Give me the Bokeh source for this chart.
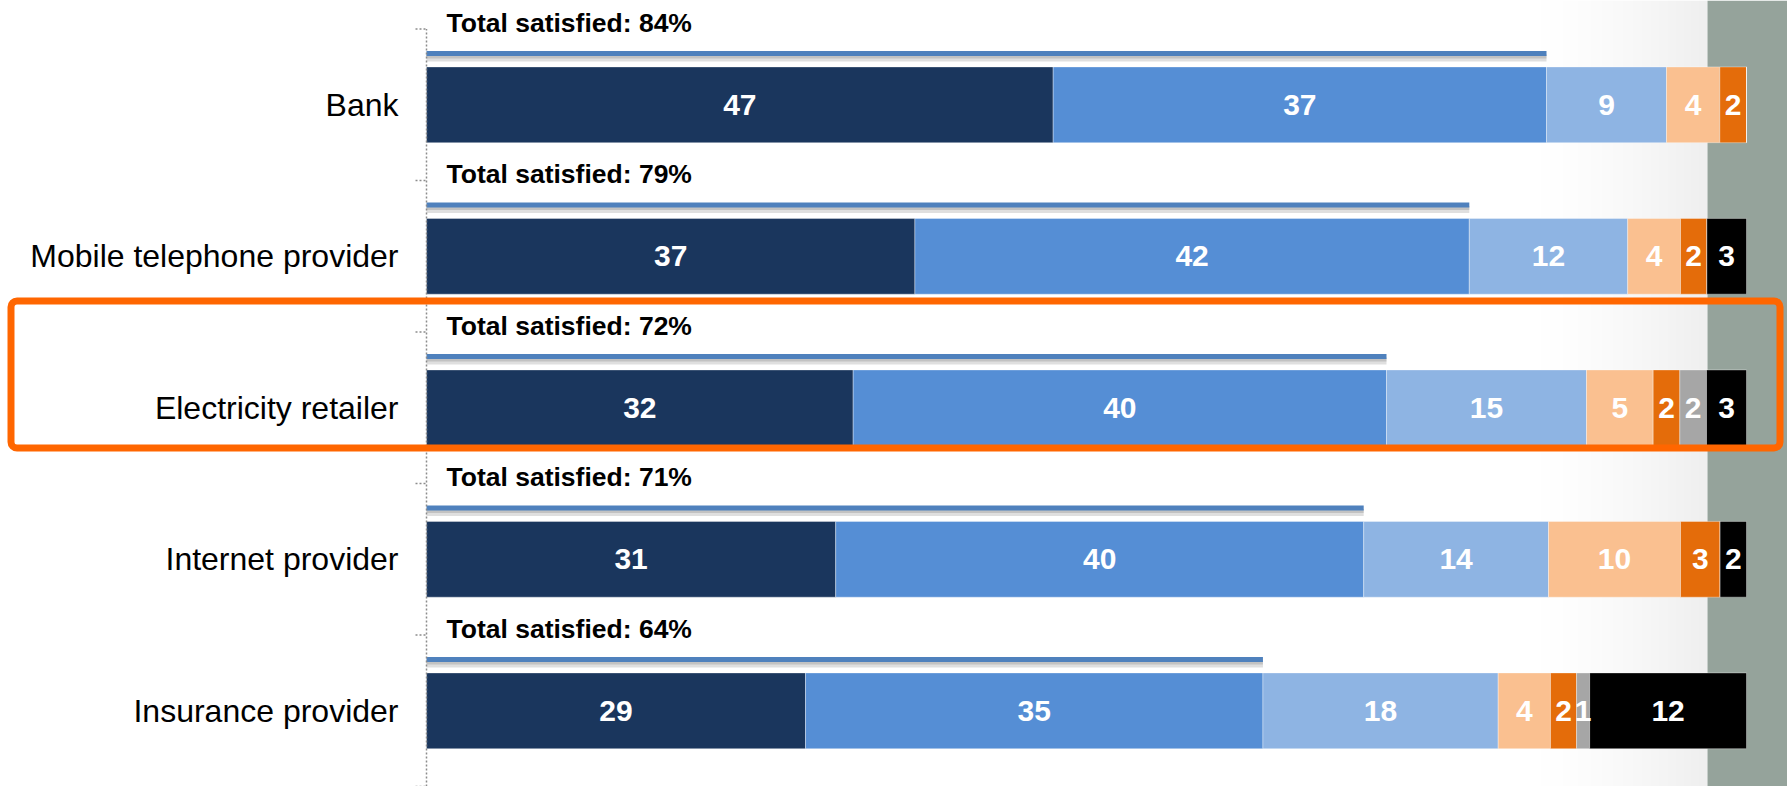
import numpy as np
from bokeh.plotting import figure
from bokeh.models import Range1d, BoxAnnotation, ColumnDataSource
from bokeh.core.properties import value
from bokeh.embed import file_html
from bokeh.resources import INLINE

# ---------------- data ----------------
categories = ["Bank", "Mobile telephone provider", "Electricity retailer",
              "Internet provider", "Insurance provider"]
series_names = ["Very satisfied", "Satisfied", "Neutral", "Dissatisfied",
                "Very dissatisfied", "Unsure", "Not applicable"]
very_satisfied = [47, 37, 32, 31, 29]
satisfied = [37, 42, 40, 40, 35]
neutral = [9, 12, 15, 14, 18]
dissatisfied = [4, 4, 5, 10, 4]
very_dissatisfied = [2, 2, 2, 3, 2]
unsure = [0, 0, 2, 0, 1]
not_applicable = [0, 3, 3, 2, 12]
total_satisfied = [84, 79, 72, 71, 64]
highlight = "Electricity retailer"

series_values = [very_satisfied, satisfied, neutral, dissatisfied,
                 very_dissatisfied, unsure, not_applicable]
colors = ["#1A365D", "#558ED5", "#8EB4E3", "#FAC090", "#E46C0A", "#A6A6A6", "#000000"]

# ---------------- layout (pixels) ----------------
W, H = 1787, 786
PX_X0 = 426.0          # x pixel of 0 %
PX_PER_UNIT = 13.2     # pixels per percent
BAND_PX = 151.5        # category band height
FIRST_CENTER_PX = 104.3

n = len(categories)
x_start = -PX_X0 / PX_PER_UNIT
x_end = (W - PX_X0) / PX_PER_UNIT
y_end = (n - 1) + FIRST_CENTER_PX / BAND_PX
y_start = y_end - H / BAND_PX
ys = [n - 1 - i for i in range(n)]

def px_x(px):
    return (px - PX_X0) / PX_PER_UNIT

def dy(px):
    return px / BAND_PX

p = figure(width=W, height=H, x_range=Range1d(x_start, x_end),
           y_range=Range1d(y_start, y_end), output_backend="svg",
           toolbar_location=None, x_axis_location=None, y_axis_location=None,
           min_border=0)
p.outline_line_color = None
p.grid.visible = False
p.background_fill_color = "white"
p.border_fill_color = "white"

# background gradient and grey band (slide decoration)
N = 256
img = np.zeros((1, N), dtype=np.uint32)
view = img.view(dtype=np.uint8).reshape((1, N, 4))
t = np.linspace(0, 1, N)
shade = (255 - 16 * t ** 1.4).astype(np.uint8)
view[0, :, 0] = shade
view[0, :, 1] = shade
view[0, :, 2] = shade
view[0, :, 3] = 255
gx0, gx1 = px_x(1540), px_x(1707)
p.image_rgba(image=[img], x=gx0, y=y_start, dw=gx1 - gx0, dh=y_end - y_start)
p.quad(left=gx1, right=x_end, bottom=y_start, top=y_end,
       fill_color="#95A39B", line_color=None)

# ---------------- stacked bars (100 %) ----------------
totals = [sum(s[i] for s in series_values) for i in range(n)]
cum = [0.0] * n
lab_x, lab_y, lab_t = [], [], []
for k, vals in enumerate(series_values):
    left = list(cum)
    right = [cum[i] + vals[i] / totals[i] * 100 for i in range(n)]
    src = ColumnDataSource(dict(y=ys, left=left, right=right))
    p.hbar(y="y", left="left", right="right", height=0.5, source=src,
           fill_color=colors[k], line_color="#FFFFFF", line_alpha=0.35,
           line_width=1)
    for i in range(n):
        if vals[i] > 0:
            lab_x.append((left[i] + right[i]) / 2)
            lab_y.append(ys[i])
            lab_t.append(str(vals[i]))
    cum = right

p.text(x=lab_x, y=lab_y, text=lab_t, text_color="white",
       text_font=value("Liberation Sans"), text_font_style="bold",
       text_font_size=value("30px"), text_align="center", text_baseline="middle")

# ---------------- total satisfied lines ----------------
sat_end = [(very_satisfied[i] + satisfied[i]) / totals[i] * 100 for i in range(n)]
line_y = [y + dy(51.3) for y in ys]
p.segment(x0=[0] * n, y0=[y - dy(4.5) for y in line_y], x1=sat_end,
          y1=[y - dy(4.5) for y in line_y], line_color="#808080",
          line_width=7, line_alpha=0.25)
p.segment(x0=[0] * n, y0=[y - dy(3) for y in line_y], x1=sat_end,
          y1=[y - dy(3) for y in line_y], line_color="#808080",
          line_width=4, line_alpha=0.3)
p.segment(x0=[0] * n, y0=line_y, x1=sat_end, y1=line_y,
          line_color="#4F81BD", line_width=5)

p.text(x=[px_x(446)] * n, y=[y + dy(82) for y in ys],
       text=[f"Total satisfied: {v}%" for v in total_satisfied],
       text_color="black", text_font=value("Liberation Sans"),
       text_font_style="bold", text_font_size=value("26.5px"),
       text_align="left", text_baseline="alphabetic")

# ---------------- category axis (dotted) ----------------
boundaries = [y + 0.5 for y in range(-1, n)]
p.segment(x0=[0], y0=[y_start], x1=[0], y1=[max(boundaries)],
          line_color="#8C8C8C", line_width=1.5, line_dash="2 2")
p.segment(x0=[px_x(415)] * len(boundaries), y0=boundaries,
          x1=[0] * len(boundaries), y1=boundaries,
          line_color="#8C8C8C", line_width=1.5, line_dash="2 2")
p.text(x=[px_x(398)] * n, y=ys, text=categories, text_color="black",
       text_font=value("Liberation Sans"), text_font_size=value("32px"),
       text_align="right", text_baseline="middle")

# ---------------- highlight box ----------------
hy = ys[categories.index(highlight)]
box = BoxAnnotation(left=px_x(10.5), right=px_x(1779.5),
                    bottom=hy - dy(40.2), top=hy + dy(106.8),
                    fill_alpha=0, fill_color=None, line_color="#FF6600",
                    line_alpha=1.0, line_width=7, border_radius=6)
p.add_layout(box)

open("out.html", "w").write(file_html(p, INLINE))
